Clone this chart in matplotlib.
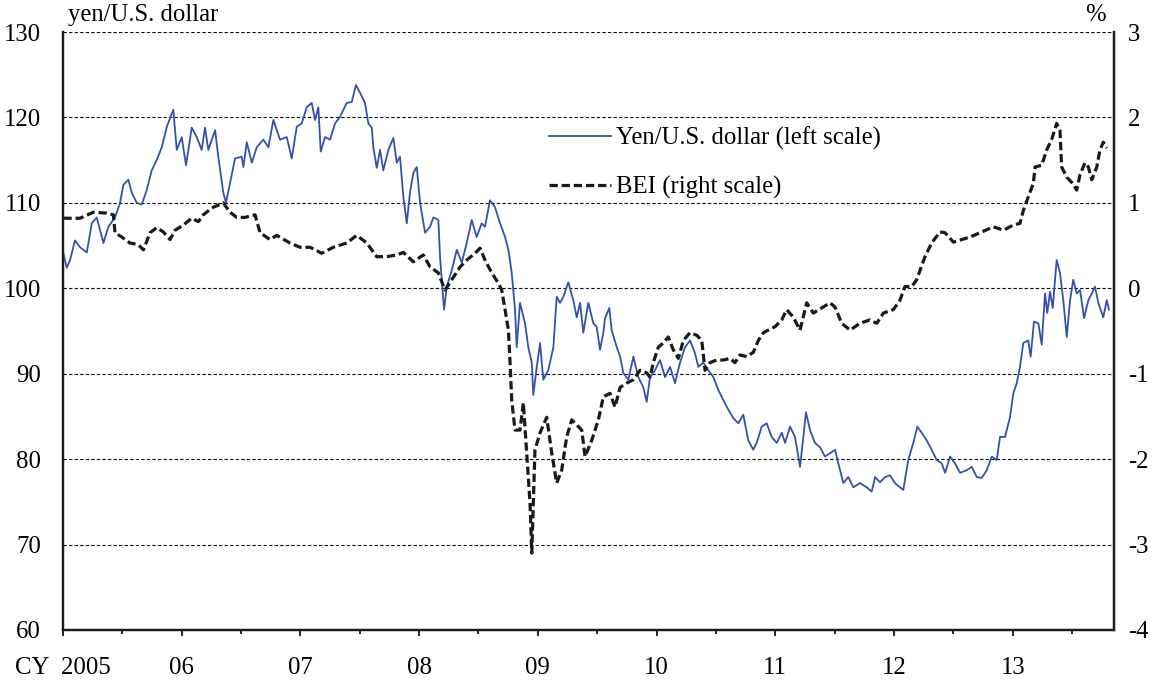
import matplotlib
matplotlib.use("Agg")
import matplotlib.pyplot as plt
from matplotlib.ticker import MultipleLocator, FixedLocator

plt.rcParams['font.family'] = ['Liberation Serif', 'DejaVu Serif']
plt.rcParams['axes.unicode_minus'] = False

# yen/U.S. dollar, x in years since start of 2005
yen_t = [0.003, 0.031, 0.059, 0.101, 0.143, 0.200, 0.242, 0.284, 0.340, 0.382,
         0.438, 0.480, 0.508, 0.550, 0.579, 0.621, 0.663, 0.705, 0.747, 0.789,
         0.832, 0.874, 0.929, 0.958, 1.000, 1.036, 1.084, 1.126, 1.168, 1.196,
         1.224, 1.281, 1.308, 1.350, 1.373, 1.407, 1.449, 1.505, 1.519, 1.548,
         1.590, 1.632, 1.687, 1.730, 1.772, 1.828, 1.885, 1.927, 1.969, 2.011,
         2.053, 2.095, 2.123, 2.151, 2.171, 2.207, 2.249, 2.292, 2.334, 2.390,
         2.432, 2.468, 2.502, 2.544, 2.572, 2.601, 2.614, 2.643, 2.671, 2.698,
         2.741, 2.783, 2.811, 2.839, 2.867, 2.896, 2.923, 2.951, 2.980, 3.008,
         3.050, 3.092, 3.120, 3.162, 3.176, 3.210, 3.233, 3.275, 3.317, 3.359,
         3.401, 3.443, 3.485, 3.527, 3.555, 3.597, 3.639, 3.682, 3.724, 3.752,
         3.780, 3.808, 3.822, 3.850, 3.892, 3.920, 3.949, 3.962, 3.991, 4.019,
         4.046, 4.088, 4.131, 4.159, 4.187, 4.215, 4.257, 4.299, 4.328, 4.356,
         4.383, 4.425, 4.468, 4.496, 4.524, 4.552, 4.566, 4.602, 4.622, 4.665,
         4.693, 4.720, 4.762, 4.805, 4.847, 4.889, 4.917, 4.945, 4.987, 5.029,
         5.072, 5.114, 5.156, 5.198, 5.240, 5.282, 5.324, 5.352, 5.394, 5.436,
         5.479, 5.521, 5.563, 5.605, 5.647, 5.689, 5.731, 5.773, 5.815, 5.844,
         5.886, 5.928, 5.970, 6.013, 6.055, 6.083, 6.125, 6.167, 6.209, 6.237,
         6.259, 6.293, 6.335, 6.377, 6.420, 6.462, 6.504, 6.532, 6.574, 6.616,
         6.658, 6.714, 6.771, 6.813, 6.841, 6.883, 6.925, 6.967, 7.009, 7.051,
         7.079, 7.121, 7.163, 7.197, 7.234, 7.276, 7.318, 7.360, 7.403, 7.431,
         7.473, 7.515, 7.557, 7.613, 7.656, 7.698, 7.740, 7.782, 7.824, 7.866,
         7.894, 7.936, 7.978, 8.006, 8.035, 8.062, 8.090, 8.132, 8.152, 8.180,
         8.217, 8.245, 8.273, 8.292, 8.315, 8.338, 8.371, 8.399, 8.427, 8.456,
         8.484, 8.511, 8.540, 8.568, 8.602, 8.638, 8.667, 8.694, 8.722, 8.764,
         8.793, 8.812]
yen = [104.1, 102.4, 103.3, 105.6, 104.8, 104.2, 107.6, 108.3, 105.3, 107.2,
       108.3, 110.0, 112.1, 112.7, 111.2, 110.0, 109.8, 111.5, 113.8, 115.0,
       116.5, 118.9, 120.9, 116.2, 117.7, 114.4, 118.8, 117.7, 116.2, 118.8,
       116.2, 118.5, 115.4, 111.2, 110.0, 112.3, 115.2, 115.4, 114.2, 117.1,
       114.7, 116.5, 117.4, 116.5, 119.7, 117.4, 117.7, 115.2, 118.9, 119.3,
       121.2, 121.7, 119.7, 121.2, 116.0, 117.7, 117.4, 119.3, 120.1, 121.7,
       121.8, 123.8, 122.9, 121.7, 119.3, 118.8, 116.5, 114.1, 116.2, 113.8,
       116.2, 117.6, 114.7, 115.4, 110.7, 107.6, 111.2, 113.5, 114.2, 110.0,
       106.5, 107.2, 108.3, 108.0, 103.7, 97.5, 100.2, 102.1, 104.5, 103.0,
       105.3, 108.0, 106.0, 107.6, 107.2, 110.3, 109.5, 107.6, 106.0, 104.5,
       101.8, 97.5, 93.1, 98.3, 95.9, 93.1, 91.3, 87.5, 90.8, 93.6,
       89.3, 90.4, 93.1, 99.0, 98.3, 99.0, 100.7, 98.6, 96.6, 98.3,
       94.8, 98.3, 95.9, 95.5, 92.8, 94.8, 96.5, 97.7, 95.1, 93.1,
       92.0, 90.1, 89.3, 92.0, 89.6, 88.4, 86.7, 89.6, 90.4, 91.6,
       89.6, 90.8, 88.9, 91.3, 93.1, 93.9, 92.4, 90.8, 91.3, 90.4,
       89.6, 88.1, 86.9, 85.8, 84.8, 84.2, 85.2, 82.2, 81.1, 81.9,
       83.8, 84.2, 82.6, 81.9, 83.1, 81.9, 83.8, 82.6, 79.1, 82.6,
       85.5, 83.4, 81.9, 81.4, 80.3, 80.7, 81.1, 79.5, 77.2, 77.9,
       76.7, 77.2, 76.7, 76.2, 77.9, 77.3, 77.9, 78.1, 77.2, 76.7,
       76.4, 79.9, 81.9, 83.8, 83.1, 82.2, 81.1, 79.9, 79.5, 78.4,
       80.3, 79.5, 78.4, 78.7, 79.1, 77.9, 77.8, 78.7, 80.3, 79.9,
       82.6, 82.6, 84.9, 87.7, 88.9, 90.8, 93.6, 93.9, 92.0, 96.1,
       95.9, 93.4, 99.4, 97.1, 99.6, 97.7, 103.3, 101.8, 98.6, 94.3,
       98.6, 101.0, 99.4, 99.8, 96.5, 98.6, 99.4, 100.2, 98.3, 96.6,
       98.6, 97.5]

# BEI (%), x in years since start of 2005
bei_t = [0.003, 0.143, 0.255, 0.368, 0.424, 0.438, 0.495, 0.564, 0.634, 0.677,
         0.733, 0.789, 0.845, 0.901, 0.944, 1.013, 1.084, 1.140, 1.182, 1.253,
         1.350, 1.407, 1.463, 1.533, 1.618, 1.660, 1.744, 1.800, 1.912, 1.997,
         2.081, 2.179, 2.277, 2.390, 2.474, 2.559, 2.643, 2.727, 2.811, 2.867,
         2.951, 3.035, 3.092, 3.162, 3.218, 3.275, 3.345, 3.401, 3.471, 3.513,
         3.555, 3.612, 3.667, 3.696, 3.724, 3.752, 3.766, 3.780, 3.808, 3.850,
         3.878, 3.906, 3.934, 3.949, 3.976, 4.019, 4.075, 4.117, 4.159, 4.201,
         4.243, 4.286, 4.370, 4.398, 4.454, 4.510, 4.552, 4.608, 4.650, 4.693,
         4.749, 4.805, 4.861, 4.917, 4.945, 4.973, 5.015, 5.057, 5.099, 5.141,
         5.184, 5.226, 5.282, 5.339, 5.381, 5.409, 5.451, 5.507, 5.563, 5.619,
         5.661, 5.703, 5.760, 5.815, 5.858, 5.900, 5.942, 5.998, 6.055, 6.097,
         6.153, 6.209, 6.265, 6.321, 6.392, 6.462, 6.504, 6.560, 6.631, 6.714,
         6.798, 6.855, 6.911, 6.995, 7.051, 7.093, 7.150, 7.192, 7.220, 7.262,
         7.318, 7.388, 7.431, 7.501, 7.571, 7.641, 7.725, 7.837, 7.922, 8.006,
         8.062, 8.090, 8.132, 8.175, 8.189, 8.245, 8.287, 8.329, 8.371, 8.399,
         8.413, 8.456, 8.498, 8.540, 8.568, 8.610, 8.638, 8.667, 8.709, 8.736,
         8.764, 8.793]
bei = [0.82, 0.82, 0.89, 0.88, 0.86, 0.65, 0.60, 0.53, 0.51, 0.45,
       0.65, 0.71, 0.66, 0.57, 0.68, 0.74, 0.82, 0.78, 0.86, 0.94,
       1.00, 0.89, 0.83, 0.83, 0.86, 0.65, 0.57, 0.62, 0.53, 0.48,
       0.48, 0.41, 0.48, 0.53, 0.62, 0.53, 0.37, 0.37, 0.39, 0.42,
       0.31, 0.39, 0.25, 0.18, -0.02, 0.10, 0.25, 0.33, 0.41, 0.47,
       0.33, 0.18, 0.06, -0.02, -0.25, -0.49, -0.87, -1.31, -1.66, -1.66,
       -1.34, -1.93, -2.51, -3.10, -1.89, -1.69, -1.51, -1.93, -2.28, -2.13,
       -1.74, -1.54, -1.66, -1.97, -1.78, -1.54, -1.27, -1.23, -1.39, -1.16,
       -1.11, -1.07, -0.96, -0.99, -1.04, -0.87, -0.69, -0.64, -0.57, -0.72,
       -0.82, -0.61, -0.52, -0.55, -0.61, -0.96, -0.87, -0.84, -0.84, -0.82,
       -0.87, -0.78, -0.80, -0.75, -0.61, -0.52, -0.49, -0.45, -0.37, -0.25,
       -0.34, -0.49, -0.17, -0.29, -0.23, -0.17, -0.22, -0.41, -0.49, -0.41,
       -0.37, -0.41, -0.29, -0.25, -0.14, 0.02, 0.02, 0.10, 0.21, 0.37,
       0.53, 0.66, 0.65, 0.54, 0.57, 0.60, 0.65, 0.72, 0.68, 0.74,
       0.76, 0.91, 1.07, 1.23, 1.42, 1.44, 1.62, 1.74, 1.93, 1.85,
       1.42, 1.30, 1.24, 1.15, 1.33, 1.47, 1.42, 1.27, 1.42, 1.62,
       1.71, 1.64]

year_labels = ['CY  2005', '06', '07', '08', '09', '10', '11', '12', '13']

start_year = 2005
yen_x = [start_year + t for t in yen_t]
bei_x = [start_year + t for t in bei_t]
year_ticks = [start_year + i for i in range(len(year_labels))]

fs = 17.8

fig = plt.figure(figsize=(11.61, 6.81), dpi=100)
ax = fig.add_axes([0.0543, 0.0749, 0.9052, 0.8781])
ax2 = ax.twinx()

grid_style = dict(color='black', lw=0.8, ls=(0, (3, 2)), zorder=1)
for v in range(70, 131, 10):
    ax.axhline(v, **grid_style)

l1, = ax.plot(yen_x, yen, color='#3452ad', lw=1.3, zorder=3,
              label='Yen/U.S. dollar (left scale)')
l2, = ax2.plot(bei_x, bei, color='#1a1a1a', lw=2.3, ls=(0, (2.6, 1.2)),
               label='BEI (right scale)')

ax.set_xlim(2005.0, 2013.854)
ax.set_ylim(60, 130)
ax2.set_ylim(-4, 3)

ax.xaxis.set_major_locator(FixedLocator(year_ticks))
ax.set_xticklabels(year_labels)
ax.xaxis.set_minor_locator(FixedLocator([y + 0.5 for y in year_ticks]))
ax.tick_params(axis='x', which='major', direction='out', length=4.5, width=1.2,
               pad=15, labelsize=fs)
ax.tick_params(axis='x', which='minor', direction='out', length=3, width=1.2)
ax.yaxis.set_major_locator(MultipleLocator(10))
ax.tick_params(axis='y', length=0, pad=16, labelsize=fs)
ax2.yaxis.set_major_locator(MultipleLocator(1))
ax2.tick_params(axis='y', length=0, pad=10, labelsize=fs)

for a in (ax, ax2):
    a.spines['top'].set_visible(False)
    for s in ('left', 'right', 'bottom'):
        a.spines[s].set_linewidth(1.6)
        a.spines[s].set_color('#1a1a1a')

fig.text(68 / 1161, 1 - 15 / 681, 'yen/U.S. dollar', fontsize=fs, ha='left', va='center')
fig.text(1095 / 1161, 1 - 15 / 681, '%', fontsize=fs, ha='center', va='center')

ax2.legend(handles=[l1, l2], loc='upper left', bbox_to_anchor=(527 / 1161, 1 - 104 / 681),
           bbox_transform=fig.transFigure, frameon=False, fontsize=fs,
           handlelength=2.5, handletextpad=0.2, labelspacing=1.05)

fig.savefig('out.png', dpi=100)
